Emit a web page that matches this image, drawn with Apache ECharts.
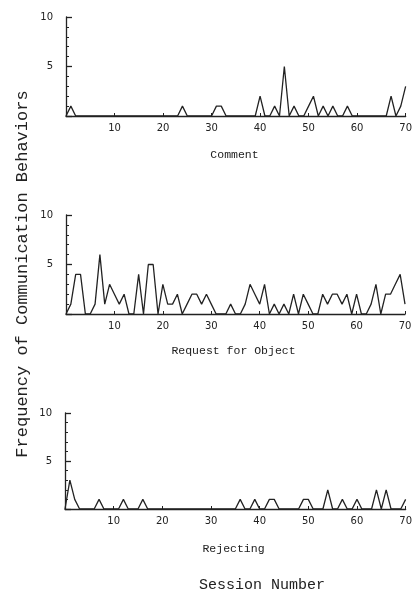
<!DOCTYPE html>
<html>
<head>
<meta charset="utf-8">
<style>
    html, body { margin: 0; padding: 0; background: #fff; }
    #chart { width: 415px; height: 607px; }
</style>
<script src="https://cdn.jsdelivr.net/npm/echarts@6/dist/echarts.min.js"></script>
</head>
<body>
<div id="chart"></div>
<script>
// 每次会谈（0-70）的行为次数
var commentCounts = [
    0, 1, 0, 0, 0, 0, 0, 0, 0, 0,
    0, 0, 0, 0, 0, 0, 0, 0, 0, 0,
    0, 0, 0, 0, 1, 0, 0, 0, 0, 0,
    0, 1, 1, 0, 0, 0, 0, 0, 0, 0,
    2, 0, 0, 1, 0, 5, 0, 1, 0, 0,
    1, 2, 0, 1, 0, 1, 0, 0, 1, 0,
    0, 0, 0, 0, 0, 0, 0, 2, 0, 1,
    3
];
var requestCounts = [
    0, 1, 4, 4, 0, 0, 1, 6, 1, 3,
    2, 1, 2, 0, 0, 4, 0, 5, 5, 0,
    3, 1, 1, 2, 0, 1, 2, 2, 1, 2,
    1, 0, 0, 0, 1, 0, 0, 1, 3, 2,
    1, 3, 0, 1, 0, 1, 0, 2, 0, 2,
    1, 0, 0, 2, 1, 2, 2, 1, 2, 0,
    2, 0, 0, 1, 3, 0, 2, 2, 3, 4,
    1
];
var rejectingCounts = [
    0, 3, 1, 0, 0, 0, 0, 1, 0, 0,
    0, 0, 1, 0, 0, 0, 1, 0, 0, 0,
    0, 0, 0, 0, 0, 0, 0, 0, 0, 0,
    0, 0, 0, 0, 0, 0, 1, 0, 0, 1,
    0, 0, 1, 1, 0, 0, 0, 0, 0, 1,
    1, 0, 0, 0, 2, 0, 0, 1, 0, 0,
    1, 0, 0, 0, 2, 0, 2, 0, 0, 0,
    1
];
var panelTitles = ['Comment', 'Request for Object', 'Rejecting'];
var xTicks = [10, 20, 30, 40, 50, 60, 70];
var yTicks = [5, 10];

(function () {
    var ink = '#222';
    var mono = '"Liberation Mono", "DejaVu Sans Mono", monospace';

    // 三个面板的位置
    var grids = [
        { left: 66, top: 17, width: 341, height: 99 },
        { left: 66, top: 215, width: 339, height: 99 },
        { left: 65, top: 413, width: 341, height: 96 }
    ];
    var titleY = [155, 351, 549];
    var allCounts = [commentCounts, requestCounts, rejectingCounts];

    function toPairs(arr) {
        return arr.map(function (v, i) { return [i, v]; });
    }

    var xAxes = [], yAxes = [], series = [], graphics = [];

    grids.forEach(function (g, k) {
        xAxes.push({
            type: 'value', gridIndex: k, min: 0, max: 70, interval: 10,
            axisLine: { lineStyle: { color: ink, width: 1.3 } },
            axisTick: { show: true, inside: true, length: 3, lineStyle: { color: ink } },
            splitLine: { show: false },
            axisLabel: {
                color: ink, fontSize: 10, margin: 7, fontFamily: 'DejaVu Sans',
                formatter: function (v) { return xTicks.indexOf(v) >= 0 ? String(v) : ''; }
            }
        });
        yAxes.push({
            type: 'value', gridIndex: k, min: 0, max: 10, interval: 5,
            axisLine: { show: true, lineStyle: { color: ink, width: 1.3 } },
            axisTick: { show: true, inside: true, length: 6, lineStyle: { color: ink, width: 1.3 } },
            minorTick: { show: true, splitNumber: 5, length: 3, lineStyle: { color: ink } },
            splitLine: { show: false },
            axisLabel: {
                color: ink, fontSize: 10, margin: 13, fontFamily: 'DejaVu Sans',
                formatter: function (v) { return yTicks.indexOf(v) >= 0 ? String(v) : ''; }
            }
        });
        series.push({
            type: 'line', xAxisIndex: k, yAxisIndex: k,
            data: toPairs(allCounts[k]),
            showSymbol: false, symbol: 'none',
            lineStyle: { color: ink, width: 1.3 },
            animation: false
        });
        // 面板标题
        graphics.push({
            type: 'text', x: g.left + g.width / 2 - 2, y: titleY[k],
            style: {
                text: panelTitles[k], fill: ink, font: '11.5px ' + mono,
                align: 'center', verticalAlign: 'middle'
            }
        });
    });

    // 坐标轴总标题
    graphics.push({
        type: 'text', x: 262, y: 585,
        style: {
            text: 'Session Number', fill: ink, font: '15px ' + mono,
            align: 'center', verticalAlign: 'middle'
        }
    });
    graphics.push({
        type: 'text', x: 22, y: 274, rotation: Math.PI / 2,
        style: {
            text: 'Frequency of Communication Behaviors', fill: ink, font: '17px ' + mono,
            align: 'center', verticalAlign: 'middle'
        }
    });

    var option = {
        backgroundColor: '#fff',
        animation: false,
        grid: grids,
        xAxis: xAxes,
        yAxis: yAxes,
        series: series,
        graphic: graphics
    };

    var myechart = echarts.init(document.getElementById('chart'));
    myechart.setOption(option);
})();
</script>
</body>
</html>
